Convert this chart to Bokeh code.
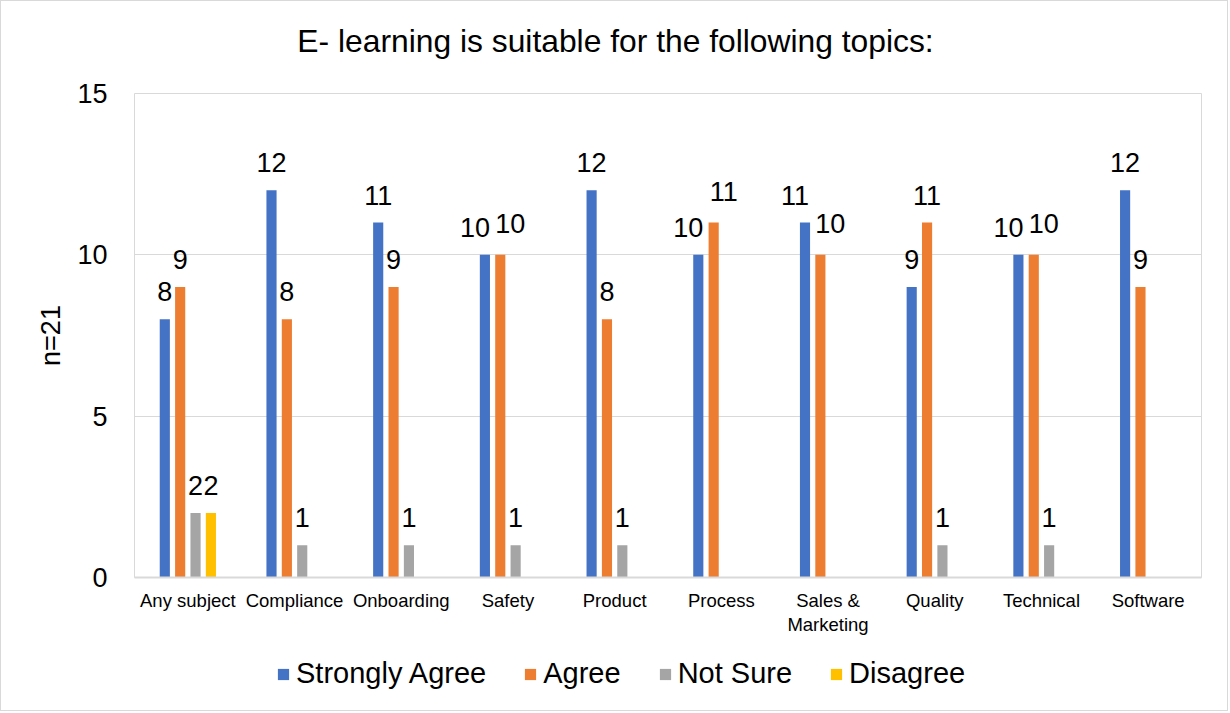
from bokeh.plotting import figure
from bokeh.layouts import column
from bokeh.models import (ColumnDataSource, FactorRange, Range1d, FixedTicker,
                          LabelSet, Label, Legend, LegendItem, CategoricalAxis)
from bokeh.core.properties import value
from bokeh.transform import dodge
from bokeh.embed import file_html
from bokeh.resources import INLINE

categories = ["Any subject", "Compliance", "Onboarding", "Safety", "Product",
              "Process", "Sales & Marketing", "Quality", "Technical", "Software"]
strongly_agree = [8, 12, 11, 10, 12, 10, 11, 9, 10, 12]
agree = [9, 8, 9, 10, 8, 11, 10, 11, 10, 9]
not_sure = [2, 1, 1, 1, 1, 0, 0, 1, 1, 0]
disagree = [2, 0, 0, 0, 0, 0, 0, 0, 0, 0]
series_names = ["Strongly Agree", "Agree", "Not Sure", "Disagree"]
y_ticks = [0, 5, 10, 15]

title_text = "E- learning is suitable for the following topics:"
y_label = "n=21"
# tick labels, split on two lines
tick_line1 = ["Any subject", "Compliance", "Onboarding", "Safety", "Product",
              "Process", "Sales &", "Quality", "Technical", "Software"]
tick_line2 = ["", "", "", "", "", "", "Marketing", "", "", ""]

colors = ["#4472C4", "#ED7D31", "#A5A5A5", "#FFC000"]
FONT = "Liberation Sans"

W = 1226
TOP_H = 70
MAIN_H = 570
LEG_H = 69
FRAME_W = 1067

# ---- title strip (its frame is aligned with the chart's frame) ----
tp = figure(width=W, height=TOP_H, x_range=Range1d(0, FRAME_W),
            y_range=Range1d(0, TOP_H), min_border=0,
            x_axis_location=None, y_axis_location=None,
            output_backend="svg", toolbar_location=None)
tp.outline_line_color = None
tp.grid.visible = False
tp.background_fill_color = "white"
tp.border_fill_color = "white"
tp.add_layout(Label(x=481, y=31, text=title_text, text_align="center",
                    text_baseline="alphabetic", text_font=FONT,
                    text_font_size="31.8px", text_color="black"))

# ---- main chart ----
p = figure(x_range=FactorRange(factors=categories, range_padding=0),
           y_range=Range1d(0, 15),
           width=W, height=MAIN_H,
           frame_width=FRAME_W, frame_height=484,
           min_border_left=133, min_border_right=26,
           min_border_top=22, min_border_bottom=64,
           x_axis_location=None,
           output_backend="svg", toolbar_location=None)

p.background_fill_color = "white"
p.border_fill_color = "white"
p.outline_line_color = "#D9D9D9"
p.outline_line_width = 1

# y axis
p.yaxis.ticker = FixedTicker(ticks=y_ticks)
p.yaxis.axis_line_color = None
p.yaxis.major_tick_line_color = None
p.yaxis.major_tick_out = 0
p.yaxis.major_tick_in = 0
p.yaxis.minor_tick_line_color = None
p.yaxis.major_label_text_font = FONT
p.yaxis.major_label_text_font_size = "27px"
p.yaxis.major_label_text_color = "black"
p.yaxis.major_label_standoff = 27
p.yaxis.axis_label = y_label
p.yaxis.axis_label_text_font = FONT
p.yaxis.axis_label_text_font_size = "27px"
p.yaxis.axis_label_text_font_style = "normal"
p.yaxis.axis_label_text_color = "black"
p.yaxis.axis_label_standoff = 8

# x axes: two lines of category labels, each on its own factor range
l1_factors = tick_line1
l2_factors = [t if t else " " * (i + 1) for i, t in enumerate(tick_line2)]
p.extra_x_ranges = {"l1": FactorRange(factors=l1_factors, range_padding=0),
                    "l2": FactorRange(factors=l2_factors, range_padding=0)}

common = dict(major_tick_line_color=None, major_tick_out=0, major_tick_in=0,
              minor_tick_line_color=None, major_label_text_font=FONT,
              major_label_text_font_size="18.5px",
              major_label_text_color="black")
xa1 = CategoricalAxis(x_range_name="l1", axis_line_color="#D9D9D9",
                      axis_line_width=2, major_label_standoff=12, **common)
xa2 = CategoricalAxis(x_range_name="l2", axis_line_color=None,
                      major_label_standoff=0, **common)
p.add_layout(xa1, "below")
p.add_layout(xa2, "below")

p.xgrid.grid_line_color = None
p.ygrid.grid_line_color = "#D9D9D9"
p.ygrid.grid_line_width = 1

offsets = [-0.216, -0.072, 0.072, 0.216]
all_series = [strongly_agree, agree, not_sure, disagree]

for k, (name, vals, col, off) in enumerate(zip(series_names, all_series, colors, offsets)):
    texts = [str(v) if v > 0 else "" for v in vals]
    xoff = []
    yoff = []
    for i in range(len(categories)):
        crowded = strongly_agree[i] >= 10 and agree[i] >= 10
        if k == 0 and crowded:
            xoff.append(-10); yoff.append(18)
        elif k == 1 and crowded:
            xoff.append(10); yoff.append(22)
        else:
            xoff.append(0); yoff.append(18)
    src = ColumnDataSource(dict(cat=categories, val=vals, txt=texts,
                                xoff=xoff, yoff=yoff))
    p.vbar(x=dodge("cat", off, range=p.x_range), top="val", width=0.095,
           source=src, fill_color=col, line_color=None)
    labels = LabelSet(x=dodge("cat", off, range=p.x_range), y="val", text="txt",
                      x_offset="xoff", y_offset="yoff", source=src,
                      text_align="center", text_baseline="alphabetic",
                      text_font=value(FONT), text_font_size="27px",
                      text_color="black")
    p.add_layout(labels)

# ---- legend strip below the chart ----
lg = figure(width=W, height=LEG_H, x_range=Range1d(0, 1), y_range=Range1d(0, 1),
            min_border=0, x_axis_location=None, y_axis_location=None,
            output_backend="svg", toolbar_location=None)
lg.outline_line_color = None
lg.grid.visible = False
lg.background_fill_color = "white"
lg.border_fill_color = "white"
items = []
for name, col in zip(series_names, colors):
    # swatch renderer kept outside the visible range; used only for the legend
    r = lg.vbar(x=[-5], bottom=[-3], top=[-2], width=0.1,
                fill_color=col, line_color=None)
    items.append(LegendItem(label=name, renderers=[r]))
leg = Legend(items=items, orientation="horizontal", location=(142, 20),
             padding=0, margin=0, spacing=37, border_line_color=None,
             background_fill_alpha=0, glyph_width=14, glyph_height=14,
             label_standoff=6, label_text_font=FONT,
             label_text_font_size="29px", label_text_color="black")
lg.add_layout(leg)

layout = column(tp, p, lg, spacing=0)
layout.styles = {"border": "1px solid #D9D9D9"}

open("out.html", "w").write(file_html(layout, INLINE))
